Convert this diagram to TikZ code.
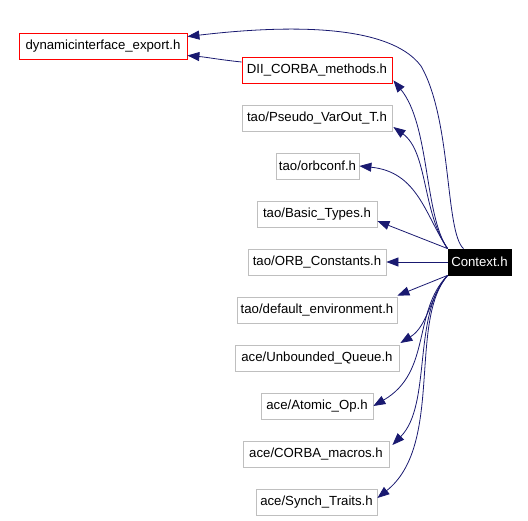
\documentclass[tikz,border=0pt]{standalone}
\usepackage{fontspec}
\setmainfont{Liberation Sans}
\usetikzlibrary{arrows.meta,calc}
\definecolor{edgeblue}{HTML}{191970}
\definecolor{boxgray}{HTML}{BFBFBF}
\begin{document}
\begin{tikzpicture}[x=1pt,y=-1pt,
  box/.style={draw=boxgray,line width=0.8pt,inner sep=0pt,minimum height=26pt,font=\fontsize{13.2}{15}\selectfont},
  redbox/.style={box,draw=red},
  ctxbox/.style={box,draw=black,fill=black,text=white},
  dep/.style={draw=edgeblue,line width=0.8pt,-{Triangle[length=12pt,width=9pt]}}]
\useasboundingbox (0,0) rectangle (528,520);
\node[redbox,minimum width=168pt] (die) at (103,46.5) {dynamicinterface\_export.h};
\node[redbox,minimum width=150pt] (dii) at (317,70) {DII\_CORBA\_methods.h};
\node[box,minimum width=150pt] (pseudo) at (317,118) {tao/Pseudo\_VarOut\_T.h};
\node[box,minimum width=83pt] (orbconf) at (317.5,166) {tao/orbconf.h};
\node[box,minimum width=120pt] (basic) at (317,214) {tao/Basic\_Types.h};
\node[box,minimum width=138pt] (orbconst) at (317,262) {tao/ORB\_Constants.h};
\node[ctxbox,minimum width=63pt] (ctx) at (479.5,262) {Context.h};
\node[box,minimum width=160pt] (defenv) at (317,310) {tao/default\_environment.h};
\node[box,minimum width=164pt] (unbq) at (317,358) {ace/Unbounded\_Queue.h};
\node[box,minimum width=112pt] (atomic) at (317,406) {ace/Atomic\_Op.h};
\node[box,minimum width=146pt] (corba) at (316,454) {ace/CORBA\_macros.h};
\node[box,minimum width=121pt] (synch) at (316.5,502) {ace/Synch\_Traits.h};
% edges
\draw[dep] ([xshift=-16pt]ctx.north) .. controls (445,232) and (452,120) .. (421,66)
  .. controls (385,18) and (260,28) .. ([yshift=10pt]die.east);
\draw[dep] ([yshift=8pt]dii.west) .. controls (222,60) and (205,57) .. ([yshift=-9pt]die.east);
\draw[dep] (ctx.north west) .. controls (424,215) and (430,125) .. ([shift={(1pt,3pt)}]dii.south east);
\draw[dep] (ctx.north west) .. controls (422,212) and (428,152) .. ([shift={(1pt,-9pt)}]pseudo.east);
\draw[dep] (ctx.north west) .. controls (425,215) and (418,172) .. (orbconf.east);
\draw[dep] (ctx.north west) -- ([yshift=-7pt]basic.east);
\draw[dep] (ctx.west) -- (orbconst.east);
\draw[dep] (ctx.south west) -- ([yshift=1pt]defenv.north east);
\draw[dep] (ctx.south west) .. controls (430,296) and (428,326) .. ([shift={(1pt,15pt)}]unbq.east);
\draw[dep] (ctx.south west) .. controls (412,312) and (432,372) .. (atomic.east);
\draw[dep] (ctx.south west) .. controls (412,315) and (432,405) .. ([shift={(3pt,9pt)}]corba.east);
\draw[dep] (ctx.south west) .. controls (408,322) and (444,445) .. ([yshift=4pt]synch.east);
\end{tikzpicture}
\end{document}
